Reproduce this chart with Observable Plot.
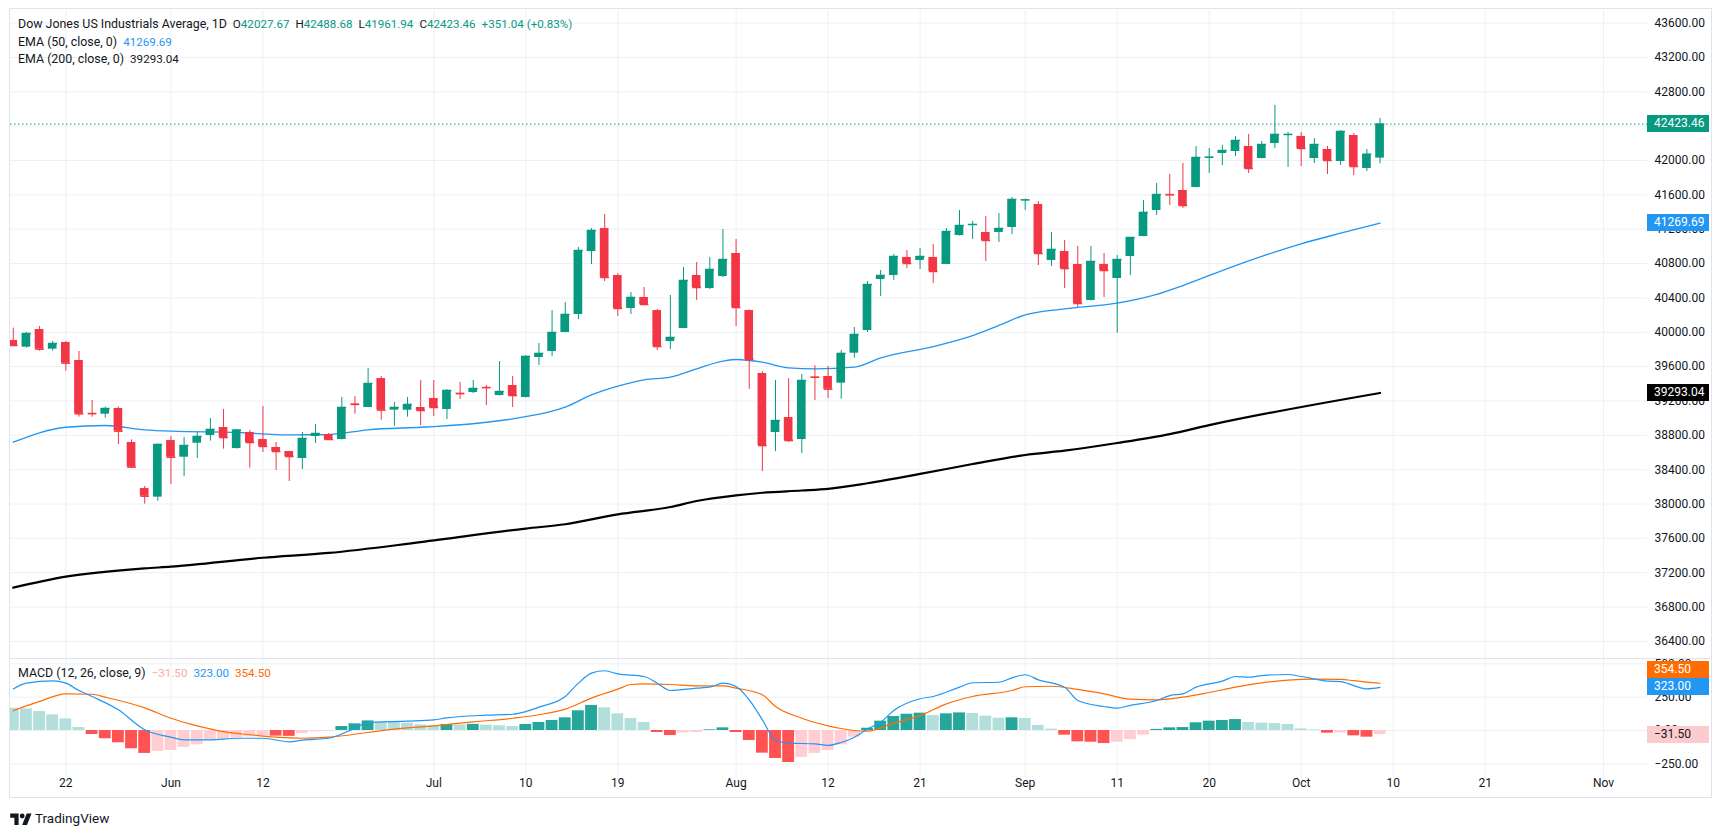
<!DOCTYPE html>
<html>
<head>
<meta charset="utf-8">
<script src="https://cdn.jsdelivr.net/npm/d3@7"></script>
<script src="https://cdn.jsdelivr.net/npm/@observablehq/plot@0.6"></script>
<style>
html,body{margin:0;padding:0;background:#fff;overflow:hidden;}
#wrap{position:relative;width:1723px;height:835px;overflow:hidden;font-family:Roboto,"Liberation Sans",sans-serif;color:#131722;}
#wrap > svg{position:absolute;left:0;}
.lg{position:absolute;left:18px;font-size:11.6px;white-space:nowrap;line-height:14px;}
.lg .t{font-size:12.4px;}
.lg span.g{margin-left:6px;}
.tag{position:absolute;left:1647px;width:55px;padding-left:7px;height:17px;line-height:17px;font-size:12px;color:#fff;}
#frame{position:absolute;left:9px;top:8px;width:1703px;height:790px;border:1px solid #e0e3eb;box-sizing:border-box;}
#sep{position:absolute;left:10px;top:658px;width:1702px;height:0;border-top:1px solid #e0e3eb;}
#tv{position:absolute;left:10px;top:811px;font-size:13.5px;line-height:15px;color:#131722;display:flex;align-items:center;gap:3px;}
</style>
</head>
<body>
<div id="wrap"></div>
<script>
// ---------- DATA ----------
const barDates = [
 "05-16","05-17","05-20","05-21","05-22","05-23","05-24","05-27","05-28","05-29","05-30","05-31",
 "06-03","06-04","06-05","06-06","06-07","06-10","06-11","06-12","06-13","06-14","06-17","06-18","06-19","06-20","06-21","06-24","06-25","06-26","06-27","06-28",
 "07-01","07-02","07-03","07-04","07-05","07-08","07-09","07-10","07-11","07-12","07-15","07-16","07-17","07-18","07-19","07-22","07-23","07-24","07-25","07-26","07-29","07-30","07-31",
 "08-01","08-02","08-05","08-06","08-07","08-08","08-09","08-12","08-13","08-14","08-15","08-16","08-19","08-20","08-21","08-22","08-23","08-26","08-27","08-28","08-29","08-30",
 "09-02","09-03","09-04","09-05","09-06","09-09","09-10","09-11","09-12","09-13","09-16","09-17","09-18","09-19","09-20","09-23","09-24","09-25","09-26","09-27","09-30",
 "10-01","10-02","10-03","10-04","10-07","10-08","10-09"];

const open = [
 39904,39826,40032,39803,39881,39671,39056,39046,39112,38716,38180,38080,
 38739,38545,38708,38798,38891,38646,38833,38751,38658,38611,38530,38786,38809,38751,39166,39124,39461,39093,39092,39124,
 39229,39100,39290,39298,39358,39263,39380,39240,39706,39776,39997,40207,40940,41208,40661,40277,40405,40253,39892,40044,40661,40509,40649,
 40917,40253,39520,38833,39007,38751,39480,39485,39407,39756,40020,40614,40661,40871,40836,40871,40789,41127,41245,41162,41162,41220,
 41535,41488,40836,40940,40789,40370,40789,40626,40882,41115,41418,41606,41651,41686,42031,42082,42105,42163,42023,42198,42296,
 42280,42023,42128,41988,42291,41907,42027.67];
const high = [
 40048,39997,40067,39892,39890,39776,39205,39128,39128,38747,38204,38700,
 38786,38775,38833,38996,39100,38867,38856,39135,38716,38615,38833,38926,38821,39240,39252,39578,39485,39182,39240,39438,
 39438,39333,39415,39438,39380,39659,39485,39729,39869,40253,40346,40987,41208,41371,40684,40463,40521,40265,40428,40754,40812,40870,41197,
 41080,40260,39543,39438,39461,39508,39611,39601,39788,40055,40591,40719,40905,40952,40975,41022,41208,41418,41290,41348,41383,41569,
 41550,41523,41162,41069,40999,40999,40917,40894,41105,41534,41732,41837,41965,42163,42140,42175,42280,42303,42221,42641,42326,
 42326,42256,42163,42349,42314,42128,42488.68];
const low = [
 39840,39815,39780,39780,39547,39011,39011,39000,38693,38421,37998,38033,
 38227,38320,38530,38732,38639,38640,38417,38600,38390,38262,38402,38705,38745,38745,39046,39120,38976,38906,39011,38914,
 39019,38984,39217,39286,39147,39260,39124,39236,39613,39718,39995,40148,40789,40591,40183,40207,40311,39787,39799,40040,40370,40498,40637,
 40067,39333,38378,38611,38716,38588,39207,39229,39221,39698,39997,40416,40603,40742,40731,40568,40785,41120,41080,40824,41045,41138,
 41418,40777,40766,40510,40288,40365,40405,39988,40661,41112,41360,41476,41441,41682,41849,41942,42047,41849,42020,42140,41919,
 41930,41965,41837,41942,41825,41872,41961.94];
const close = [
 39846,39985,39803,39869,39640,39050,39052,39112,38848,38429,38091,38693,
 38545,38681,38786,38868,38774,38860,38716,38670,38611,38553,38763,38821,38751,39124,39160,39403,39093,39124,39159,39089,
 39124,39322,39285,39345,39355,39310,39263,39718,39753,39997,40207,40952,41185,40638,40277,40405,40323,39834,39939,40603,40521,40731,40847,
 40288,39683,38681,38972,38739,39438,39476,39337,39753,39974,40556,40661,40882,40801,40882,40708,41173,41243,41255,41069,41208,41546,
 41541,40917,40964,40742,40335,40824,40719,40847,41103,41395,41604,41600,41476,42035,42038,42116,42233,41907,42186,42303,42303,
 42140,42186,42000,42338,41930,42072,42423.46];

const ema50Dates = ["05-16","05-22","05-27","05-30","06-03","06-10","06-14","06-19","06-24","06-28","07-01","07-09","07-15","07-17","07-19","07-23","07-25","07-29","07-31","08-01","08-05","08-07","08-09","08-14","08-16","08-22","08-27","08-29","09-02","09-05","09-11","09-16","09-18","09-24","10-01","10-04","10-09"];
const ema50Values = [38720,38894,38914,38864,38848,38833,38806,38809,38864,38894,38902,38992,39127,39270,39372,39446,39477,39574,39663,39683,39651,39586,39574,39593,39702,39834,39962,40079,40203,40273,40338,40440,40544,40777,41030,41153,41269.69];

const ema200Dates = ["05-16","05-22","05-30","06-03","06-12","06-19","06-28","07-10","07-15","07-19","07-25","07-29","08-01","08-05","08-08","08-12","08-15","08-21","08-27","09-02","09-05","09-11","09-17","09-20","10-09"];
const ema200Values = [37026,37154,37250,37270,37374,37430,37556,37714,37764,37880,37965,38035,38100,38131,38157,38177,38242,38350,38466,38571,38621,38710,38814,38918,39293.04];

const histValues = [
 167,162,142,117,87,22,-30,-62,-92,-137,-172,-157,
 -150,-127,-107,-77,-65,-55,-48,-40,-42,-44,-22,-10,-5,30,50,72,62,60,55,42,
 35,45,42,46,40,35,30,45,60,75,95,148,188,170,125,90,60,-15,-38,-18,-15,5,20,
 -15,-75,-170,-210,-240,-202,-172,-150,-108,-50,17,70,105,122,130,112,125,132,128,108,92,95,
 90,38,10,-35,-85,-88,-98,-88,-68,-35,8,20,22,58,70,75,82,60,55,52,45,
 12,5,-20,-18,-40,-50,-31.5];

const macdDates = ["05-16","05-17","05-21","05-22","05-23","05-24","05-28","05-30","06-03","06-04","06-06","06-10","06-12","06-14","06-17","06-19","06-21","06-24","06-27","07-01","07-02","07-05","07-09","07-10","07-11","07-15","07-16","07-17","07-18","07-19","07-23","07-24","07-25","07-29","07-30","07-31","08-01","08-02","08-05","08-06","08-07","08-09","08-12","08-13","08-14","08-15","08-16","08-19","08-21","08-22","08-26","08-27","08-29","08-30","09-02","09-03","09-05","09-06","09-10","09-11","09-12","09-16","09-17","09-18","09-19","09-23","09-24","09-25","09-26","09-30","10-01","10-03","10-04","10-07","10-08","10-09"];
const macdValues = [312,355,372,355,300,255,155,5,-50,-70,-70,-58,-58,-85,-72,-58,18,60,70,80,95,115,122,142,175,255,355,430,448,425,405,355,300,318,325,355,330,230,80,-75,-95,-100,-112,-90,-50,12,62,150,238,255,325,358,362,395,418,380,325,225,180,168,188,225,262,275,325,370,405,400,412,420,405,370,367,337,312,323];

const signalDates = ["05-16","05-20","05-22","05-24","05-27","05-30","06-03","06-05","06-07","06-11","06-13","06-17","06-19","06-24","06-26","07-01","07-04","07-09","07-11","07-15","07-17","07-19","07-22","07-23","07-25","07-29","07-31","08-01","08-05","08-06","08-08","08-12","08-13","08-14","08-15","08-19","08-21","08-23","08-27","08-30","09-02","09-04","09-06","09-10","09-12","09-16","09-18","09-20","09-24","09-26","09-30","10-02","10-04","10-07","10-08","10-09"];
const signalValues = [148,218,275,272,250,170,92,35,-8,-32,-50,-58,-50,-15,10,35,65,92,118,160,243,310,345,350,345,335,335,318,268,180,92,35,15,0,-5,55,112,200,255,300,328,332,308,275,235,230,250,285,325,357,378,385,383,374,363,354.5];

const priceTicks = [36400,36800,37200,37600,38000,38400,38800,39200,39600,40000,40400,40800,41200,41600,42000,42400,42800,43200,43600];
const macdTicks = [-250,0,250,500];
const timeTickDates = ["2024-05-22","2024-06-03","2024-06-12","2024-07-01","2024-07-10","2024-07-19","2024-08-01","2024-08-12","2024-08-21","2024-09-02","2024-09-11","2024-09-20","2024-10-01","2024-10-10","2024-10-21","2024-11-01"];
const timeTickLabels = ["22","Jun","12","Jul","10","19","Aug","12","21","Sep","11","20","Oct","10","21","Nov"];

const titleText = "Dow Jones US Industrials Average, 1D";
const ohlcHeader = {O: 42027.67, H: 42488.68, L: 41961.94, C: 42423.46, chg: "+351.04 (+0.83%)"};
const ema50Label = "EMA (50, close, 0)", ema200Label = "EMA (200, close, 0)";
const macdLabel = "MACD (12, 26, close, 9)";
const lastHist = -31.50, lastMacd = 323.00, lastSignal = 354.50;

// ---------- SCALE HELPERS (business-day axis, like TradingView) ----------
const t0 = Date.UTC(2024, 4, 16);
function biz(s) {
  const full = s.length === 5 ? "2024-" + s : s;
  const t = Date.parse(full + "T00:00:00Z");
  let n = 0;
  for (let u = t0; u < t; u += 864e5) { const wd = new Date(u).getUTCDay(); if (wd !== 0 && wd !== 6) n++; }
  return n;
}
const UP = "#089981", DOWN = "#f23645", GRID = "#eef0f3", BLUE = "#2196f3", ORANGE = "#ff6d00";
const FONT = "Roboto, 'Liberation Sans', sans-serif";
const xDom = [-0.21, 124.35];

const bars = barDates.map((d, k) => ({i: biz(d), open: open[k], high: high[k], low: low[k], close: close[k]}));
const col = d => d.close >= d.open ? UP : DOWN;
const ema50 = ema50Dates.map((d, k) => ({i: biz(d), v: ema50Values[k]}));
const ema200 = ema200Dates.map((d, k) => ({i: biz(d), v: ema200Values[k]}));
const macd = macdDates.map((d, k) => ({i: biz(d), v: macdValues[k]}));
const signal = signalDates.map((d, k) => ({i: biz(d), v: signalValues[k]}));
const hist = histValues.map((v, k) => ({i: biz(barDates[k]), v, prev: k ? histValues[k-1] : null}));
const histColor = d => d.v >= 0 ? (d.prev !== null && d.v > d.prev ? "#26a69a" : "#b2dfdb")
                                 : (d.prev !== null && d.v < d.prev ? "#ff5252" : "#ffcdd2");
const tickPos = timeTickDates.map(biz);
const tickLabelOf = new Map(tickPos.map((p, k) => [p, timeTickLabels[k]]));
const fmt2 = d3.format(".2f");

const style = {fontFamily: FONT, fontSize: "12px", color: "#131722", background: "transparent"};

const main = Plot.plot({
  width: 1723, height: 658, marginTop: 8, marginBottom: 0, marginLeft: 10, marginRight: 76,
  style,
  x: {domain: xDom, axis: null, label: null},
  y: {domain: [36201, 43770], axis: null, label: null},
  marks: [
    Plot.gridX(tickPos, {stroke: GRID, strokeOpacity: 1}),
    Plot.gridY(priceTicks, {stroke: GRID, strokeOpacity: 1}),
    Plot.axisY(priceTicks, {anchor: "right", tickSize: 0, tickPadding: 7, tickFormat: fmt2, fill: "#131722", label: null}),
    Plot.ruleY([close[close.length - 1]], {stroke: UP, strokeDasharray: "1.5,2.5", strokeWidth: 1}),
    Plot.line(ema200, {x: "i", y: "v", stroke: "#000", strokeWidth: 2.2, curve: "monotone-x"}),
    Plot.line(ema50, {x: "i", y: "v", stroke: BLUE, strokeWidth: 1.3, curve: "monotone-x"}),
    Plot.ruleX(bars, {x: "i", y1: "low", y2: "high", stroke: col, strokeWidth: 1, clip: true}),
    Plot.rect(bars, {x1: d => d.i - 0.33, x2: d => d.i + 0.33, y1: "open", y2: "close", fill: col, clip: true}),
    Plot.link(bars, {x1: d => d.i - 0.33, x2: d => d.i + 0.33, y1: "close", y2: "close", stroke: col, strokeWidth: 1.5, clip: true})
  ]
});

const lower = Plot.plot({
  width: 1723, height: 142, marginTop: 0, marginBottom: 22, marginLeft: 10, marginRight: 76,
  style,
  x: {domain: xDom, axis: null, label: null},
  y: {domain: [-360, 540], axis: null, label: null},
  marks: [
    Plot.gridX(tickPos, {stroke: GRID, strokeOpacity: 1}),
    Plot.gridY(macdTicks, {stroke: GRID, strokeOpacity: 1}),
    Plot.axisY(macdTicks, {anchor: "right", tickSize: 0, tickPadding: 7, tickFormat: fmt2, fill: "#131722", label: null}),
    Plot.axisX(tickPos, {anchor: "bottom", tickSize: 0, tickPadding: 0, tickFormat: d => tickLabelOf.get(d), fill: "#131722", label: null}),
    Plot.rect(hist, {x1: d => d.i - 0.45, x2: d => d.i + 0.45, y1: () => 0, y2: "v", fill: histColor, clip: true}),
    Plot.line(signal, {x: "i", y: "v", stroke: ORANGE, strokeWidth: 1.2, curve: "monotone-x"}),
    Plot.line(macd, {x: "i", y: "v", stroke: BLUE, strokeWidth: 1.2, curve: "monotone-x"})
  ]
});

// ---------- LAYOUT ----------
const wrap = document.getElementById("wrap");
const frame = document.createElement("div"); frame.id = "frame"; wrap.appendChild(frame);
main.style.top = "0px"; wrap.appendChild(main);
lower.style.top = "658px"; wrap.appendChild(lower);
const sep = document.createElement("div"); sep.id = "sep"; wrap.appendChild(sep);

function addLegend(top, html) {
  const d = document.createElement("div"); d.className = "lg"; d.style.top = top + "px"; d.innerHTML = html; wrap.appendChild(d);
}
const tc = s => `<span style="color:${UP}">${s}</span>`;
addLegend(17, `<span class="t">${titleText}</span><span class="g">O</span>${tc(fmt2(ohlcHeader.O))}<span class="g">H</span>${tc(fmt2(ohlcHeader.H))}<span class="g">L</span>${tc(fmt2(ohlcHeader.L))}<span class="g">C</span>${tc(fmt2(ohlcHeader.C))}<span class="g" style="color:${UP}">${ohlcHeader.chg}</span>`);
addLegend(34.5, `<span class="t">${ema50Label}</span><span class="g" style="color:${BLUE}">${fmt2(ema50Values[ema50Values.length-1])}</span>`);
addLegend(51.5, `<span class="t">${ema200Label}</span><span class="g" style="color:#131722">${fmt2(ema200Values[ema200Values.length-1])}</span>`);
addLegend(666, `<span class="t">${macdLabel}</span><span class="g" style="color:#f7a9ab">${fmt2(lastHist)}</span><span class="g" style="color:${BLUE}">${fmt2(lastMacd)}</span><span class="g" style="color:${ORANGE}">${fmt2(lastSignal)}</span>`);

function addTag(y, text, bg, fg) {
  const d = document.createElement("div"); d.className = "tag";
  d.style.top = (y - 8.5) + "px"; d.style.background = bg; d.style.color = fg; d.textContent = text; wrap.appendChild(d);
}
const ym = main.scale("y"), yl = lower.scale("y");
addTag(ym.apply(close[close.length-1]), fmt2(close[close.length-1]), UP, "#fff");
addTag(ym.apply(ema50Values[ema50Values.length-1]), fmt2(ema50Values[ema50Values.length-1]), BLUE, "#fff");
addTag(ym.apply(ema200Values[ema200Values.length-1]), fmt2(ema200Values[ema200Values.length-1]), "#000", "#fff");
// MACD pane tags with simple collision avoidance
let yMacd = 658 + yl.apply(lastMacd), ySig = 658 + yl.apply(lastSignal);
if (Math.abs(yMacd - ySig) < 17) ySig = yMacd - 17;
addTag(ySig, fmt2(lastSignal), ORANGE, "#fff");
addTag(yMacd, fmt2(lastMacd), BLUE, "#fff");
addTag(658 + yl.apply(lastHist), fmt2(lastHist), "#fccbcd", "#131722");

const tv = document.createElement("div"); tv.id = "tv";
tv.innerHTML = `<svg width="22" height="12" viewBox="0 0 36 20"><path d="M14 20H7V8H0V1h14v19zM28 20h-8L27.5 1h8L28 20z" fill="#131722"/><circle cx="20" cy="5" r="4" fill="#131722"/></svg><span>TradingView</span>`;
wrap.appendChild(tv);
</script>
</body>
</html>
